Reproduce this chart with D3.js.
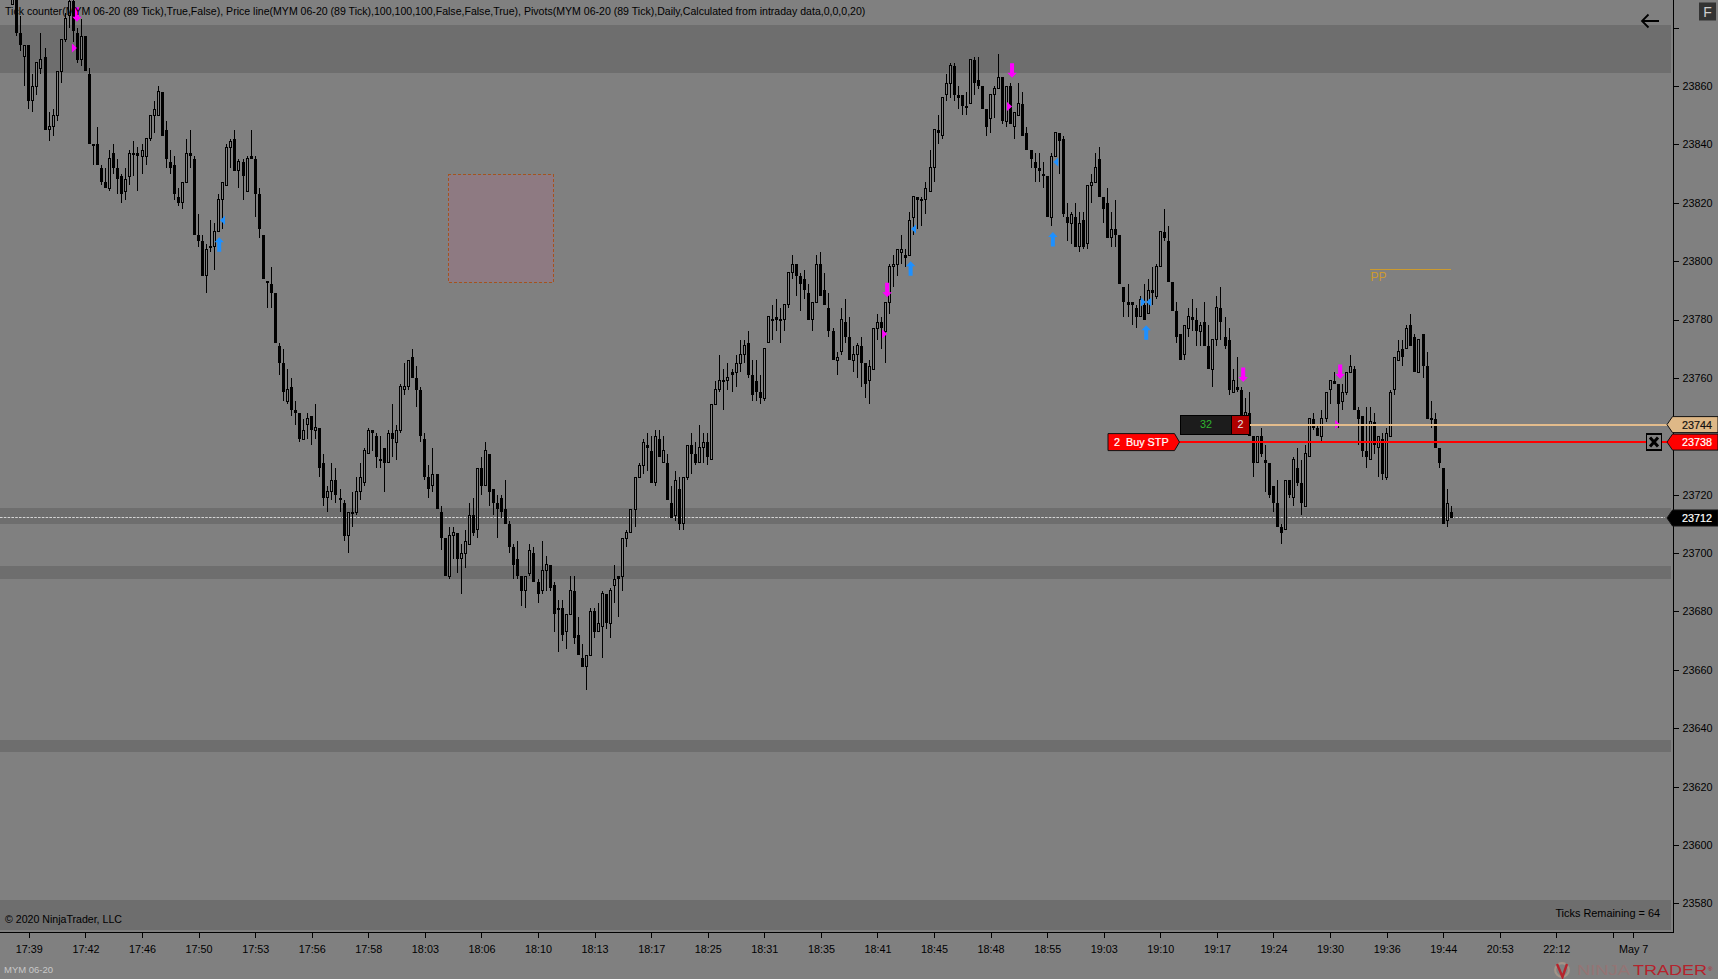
<!DOCTYPE html>
<html><head><meta charset="utf-8">
<script src="https://cdnjs.cloudflare.com/ajax/libs/d3/7.8.5/d3.min.js"></script>
<style>
html,body{margin:0;padding:0;background:#808080;overflow:hidden}
svg{display:block;font-family:"Liberation Sans",Arial,sans-serif}
</style></head><body>
<svg id="c" width="1718" height="979"></svg>
<script>
// ---------- data ----------
const opens=[
23888,23890,23878,23870,23874,23855,23860,23866,23870,23845,23846,23850,23865,23876,23884,23889,23878,23869,23877,23864,
23840,23840,23832,23827,23825,23837,23832,23829,23824,23829,23837,23837,23836,23836,23842,23850,23850,23858,23845,23834,
23833,23822,23820,23827,23837,23835,23809,23807,23795,23805,23805,23810,23821,23826,23839,23842,23831,23834,23824,23836,
23835,23823,23809,23793,23792,23789,
23771,23765,23752,23757,23749,23748,23739,23744,23747,23742,23743,23731,23719,23721,23725,23719,23717,23706,23714,23714,
23721,23724,23734,23742,23740,23732,23736,23731,23741,23738,23742,23756,23757,23767,23760,23756,23739,23726,23723,23727,
23714,23705,23692,23706,23707,23698,23700,23703,23713,23708,23729,23723,23734,23722,23717,
23719,23715,23710,23702,23698,23692,23687,23693,23700,23690,23687,23694,23696,23689,23681,23681,23673,23679,23687,23672,
23664,23661,23665,23680,23673,23675,23686,23676,23689,23692,23692,23705,23707,23715,23726,23730,23737,23735,23724,23739,
23731,23731,23717,23713,23722,23710,23726,23737,23734,23731,23736,23738,23732,23751,23756,23759,23759,23762,23762,23765,
23768,
23772,23761,23759,23755,23753,23772,23780,23781,23780,23780,23785,23796,23799,23795,23794,23789,23780,23786,23799,23790,
23784,23776,23766,
23769,23779,23774,23766,23768,23771,23765,23759,23763,23777,23779,23776,23786,23798,23799,23803,23802,23802,23815,23822,
23821,23821,23824,23832,23845,23843,23857,23861,23867,23857,23857,23853,23854,23869,23862,23860,23852,23849,23857,23859,
23863,23848,23860,23846,23850,23854,23844,23838,23834,23832,23830,23829,23815,23836,23844,23842,23815,23813,23815,23805,
23814,23806,23826,23827,23835,23822,23820,23808,23811,23809,23791,23786,23786,23784,23781,23785,23782,23790,23788,23798,
23810,23807,23793,23783,23775,23768,23777,23781,23780,
23776,23779,23771,23763,23773,23784,23774,23773,23755,23757,23756,23746,23748,23740,23731,23740,23732,23731,23723,23717,
23709,23708,23725,23719,23729,23724,23716,23733,23746,23743,23740,23746,23756,23759,23758,23752,23755,23762,23763,23749,
23747,23735,23732,23745,23736,23739,23726,23740,23756,23766,23770,23770,23778,23774,23762,23775,23764,23746,23746,23736,
23729,23711,23714];
const highs=[
23893,23892,23884,23874,23874,23864,23868,23878,23873,23851,23852,23865,23876,23885,23893,23892,23880,23883,23877,23866,
23840,23846,23833,23832,23838,23840,23835,23830,23832,23838,23841,23839,23840,23842,23850,23855,23860,23858,23848,23838,
23836,23825,23827,23842,23845,23836,23816,23809,23806,23814,23813,23823,23827,23840,23842,23845,23835,23835,23836,23845,
23836,23825,23809,23793,23798,23789,
23772,23770,23763,23760,23752,23748,23746,23748,23747,23751,23743,23734,23723,23731,23729,23722,23718,23714,23721,23726,
23731,23736,23743,23742,23741,23740,23736,23742,23751,23744,23758,23765,23766,23770,23764,23757,23741,23730,23736,23727,
23716,23705,23709,23709,23707,23703,23708,23717,23719,23729,23733,23738,23734,23722,23720,
23720,23725,23711,23703,23704,23692,23692,23703,23702,23691,23704,23699,23696,23690,23684,23684,23679,23692,23692,23678,
23669,23665,23681,23681,23683,23687,23686,23688,23696,23692,23705,23708,23715,23726,23731,23739,23741,23740,23742,23742,
23740,23734,23723,23728,23726,23726,23737,23741,23738,23744,23741,23741,23751,23759,23768,23763,23765,23763,23768,23773,
23773,
23776,23766,23766,23761,23770,23781,23785,23787,23784,23785,23796,23802,23799,23796,23797,23792,23786,23802,23803,23796,
23789,23777,23769,
23784,23787,23781,23771,23772,23774,23765,23766,23777,23782,23781,23786,23799,23802,23804,23809,23804,23817,23822,23822,
23822,23827,23838,23845,23850,23856,23864,23868,23868,23860,23857,23858,23869,23870,23870,23860,23852,23857,23860,23871,
23863,23860,23861,23851,23861,23858,23846,23838,23837,23837,23834,23829,23837,23844,23844,23843,23820,23817,23820,23817,
23817,23826,23830,23837,23839,23822,23825,23817,23821,23809,23791,23792,23786,23785,23788,23792,23794,23798,23799,23810,
23818,23812,23793,23786,23775,23778,23784,23787,23784,
23779,23786,23778,23773,23788,23791,23781,23777,23763,23767,23757,23753,23755,23740,23740,23743,23737,23731,23723,23725,
23710,23725,23725,23733,23736,23732,23737,23746,23748,23744,23749,23755,23759,23762,23758,23758,23762,23768,23764,23750,
23747,23750,23750,23748,23740,23741,23743,23756,23767,23773,23773,23778,23782,23775,23773,23775,23769,23752,23748,23736,
23729,23722,23716];
const lows=[
23888,23877,23872,23860,23852,23851,23857,23864,23845,23841,23843,23848,23861,23875,23880,23875,23868,23867,23865,23840,
23833,23833,23826,23825,23824,23830,23823,23820,23821,23826,23829,23824,23830,23833,23841,23844,23850,23843,23832,23830,
23821,23819,23818,23827,23832,23809,23805,23795,23789,23803,23797,23810,23811,23826,23832,23831,23825,23821,23824,23835,
23815,23808,23794,23784,23784,23772,
23761,23752,23751,23747,23744,23738,23739,23739,23737,23739,23726,23716,23714,23718,23717,23714,23704,23700,23709,23713,
23718,23723,23734,23735,23729,23729,23721,23731,23733,23732,23741,23754,23756,23760,23750,23738,23725,23719,23721,23715,
23701,23692,23691,23698,23693,23686,23695,23703,23706,23705,23720,23723,23716,23713,23705,
23712,23710,23700,23691,23691,23682,23681,23692,23690,23683,23686,23687,23687,23673,23666,23670,23667,23679,23669,23665,
23661,23653,23665,23671,23673,23664,23674,23671,23683,23678,23687,23702,23707,23709,23726,23727,23728,23724,23723,23733,
23731,23718,23712,23711,23708,23708,23725,23727,23730,23731,23731,23730,23732,23751,23755,23749,23756,23755,23757,23762,
23765,
23760,23752,23752,23751,23752,23772,23773,23776,23772,23776,23784,23794,23788,23783,23787,23780,23776,23786,23788,23785,
23774,23766,23761,
23768,23772,23766,23762,23760,23757,23753,23751,23763,23773,23770,23765,23782,23791,23795,23799,23798,23802,23809,23811,
23812,23816,23824,23827,23840,23842,23855,23856,23855,23852,23850,23850,23854,23857,23859,23852,23843,23844,23849,23859,
23847,23846,23847,23842,23850,23843,23838,23832,23827,23827,23825,23815,23812,23836,23830,23815,23807,23806,23805,23803,
23804,23804,23820,23827,23822,23813,23808,23805,23805,23792,23781,23781,23778,23777,23781,23780,23782,23785,23787,23798,
23807,23793,23783,23772,23766,23766,23774,23776,23771,
23771,23771,23763,23757,23771,23773,23770,23754,23755,23755,23746,23741,23740,23726,23731,23733,23721,23719,23714,23709,
23703,23708,23719,23716,23723,23713,23716,23733,23742,23740,23738,23745,23751,23758,23743,23749,23754,23762,23749,23737,
23733,23729,23732,23734,23726,23725,23725,23740,23754,23766,23764,23770,23771,23762,23762,23760,23746,23743,23736,23729,
23710,23709,23712];
const closes=[
23891,23878,23874,23874,23855,23860,23868,23869,23845,23846,23850,23865,23876,23883,23889,23879,23869,23877,23865,23840,
23840,23833,23827,23825,23835,23832,23828,23823,23828,23837,23837,23836,23838,23842,23850,23852,23858,23843,23835,23832,
23823,23820,23827,23837,23836,23809,23807,23795,23804,23805,23810,23821,23827,23839,23841,23831,23834,23829,23835,23835,
23823,23811,23794,23793,23789,23772,
23765,23755,23756,23749,23748,23739,23742,23746,23742,23743,23729,23719,23721,23725,23720,23718,23706,23714,23714,23721,
23726,23735,23742,23741,23733,23732,23731,23741,23739,23742,23757,23757,23766,23760,23756,23740,23726,23722,23727,23715,
23705,23692,23706,23707,23698,23700,23704,23713,23707,23729,23723,23735,23721,23717,23715,
23714,23710,23702,23696,23692,23687,23692,23701,23690,23686,23694,23696,23688,23679,23681,23672,23679,23687,23671,23665,
23661,23665,23680,23673,23676,23686,23676,23687,23691,23691,23705,23707,23715,23726,23730,23738,23736,23724,23740,23733,
23735,23718,23712,23725,23710,23726,23737,23734,23731,23736,23738,23733,23751,23756,23759,23759,23760,23761,23765,23768,
23771,
23761,23754,23755,23753,23770,23781,23780,23780,23780,23785,23796,23799,23795,23792,23790,23780,23786,23799,23788,23785,
23776,23766,23767,
23780,23774,23766,23768,23771,23765,23758,23764,23777,23779,23777,23786,23798,23799,23804,23804,23801,23814,23822,23821,
23821,23825,23832,23845,23844,23856,23861,23867,23857,23856,23853,23853,23869,23861,23860,23852,23846,23857,23859,23863,
23848,23860,23847,23851,23854,23843,23838,23835,23832,23831,23829,23815,23836,23844,23841,23816,23813,23816,23805,23813,
23805,23826,23827,23832,23822,23818,23808,23811,23809,23792,23786,23785,23785,23781,23787,23780,23790,23789,23798,23810,
23808,23793,23783,23774,23766,23778,23781,23780,23776,
23778,23771,23763,23773,23784,23779,23771,23756,23759,23756,23747,23748,23740,23731,23740,23734,23731,23720,23717,23709,
23707,23725,23720,23732,23724,23717,23734,23746,23743,23740,23746,23755,23759,23758,23751,23755,23762,23764,23749,23746,
23735,23733,23745,23737,23740,23727,23741,23755,23767,23769,23767,23777,23771,23762,23773,23764,23746,23746,23736,23731,
23710,23717,23712];

const priceTicks=[23580,23600,23620,23640,23660,23680,23700,23720,23740,23760,23780,23800,23820,23840,23860,23880];
const hiddenPriceLabels=[23740,23880];
const timeBars=[4,18,32,46,60,74,88,102,116,130,144,158,172,186,200,214,228,242,256,270,284,298,312,326,340,354,368,382,396,401];
const timeLabels=["17:39","17:42","17:46","17:50","17:53","17:56","17:58","18:03","18:06","18:10","18:13","18:17","18:25","18:31","18:35","18:41","18:45","18:48","18:55","19:03","19:10","19:17","19:24","19:30","19:36","19:44","20:53","22:12","","May 7"];

const zoneTops=[23881,23715.4,23695.6,23636.1,23581.1];
const zoneBottoms=[23864.6,23710,23691.1,23632,23570.9];

const downArrowBars=[15.9,216.4,247.3,304.5,328.5];
const downArrowPrices=[23882,23787.6,23862.8,23758.6,23759.6];
const upArrowBars=[51.1,222.2,257.4,280.5];
const upArrowPrices=[23808.2,23800,23810,23778];
const rightTriBars=[15.9,216.4,247.3,328.5];
const rightTriPrices=[23873,23775,23853,23744];
const leftTriBars=[51.3,222.3,257.5,280.5];
const leftTriPrices=[23814,23811,23834,23786];
const blueRightTriBars=[280.4];
const blueRightTriPrices=[23786];

const lastPrice=23712, stopPrice=23738, avgPrice=23744, pivotPrice=23797;
const boxBars=[107.8,133.9], boxPrices=[23829.6,23792.8];
const pivotBars=[336,356];

// ---------- scales ----------
const x=d3.scaleLinear().domain([0,356]).range([12.7,1451.3]);
const y=d3.scaleLinear().domain([23860,23580]).range([86,903.3]);
const svg=d3.select("#c");
const bars=opens.map((o,i)=>({i,o,h:Math.max(highs[i],o,closes[i]),l:Math.min(lows[i],o,closes[i]),c:closes[i]}));

svg.append("rect").attr("width",1718).attr("height",979).attr("fill","#808080");

// zones
svg.append("g").selectAll("rect").data(zoneTops).join("rect")
 .attr("x",0).attr("width",1671)
 .attr("y",d=>y(d)).attr("height",(d,i)=>y(zoneBottoms[i])-y(d))
 .attr("fill","#6e6e6e").attr("shape-rendering","crispEdges");

// drawn rectangle
svg.append("rect").attr("x",x(boxBars[0])).attr("width",x(boxBars[1])-x(boxBars[0]))
 .attr("y",y(boxPrices[0])).attr("height",y(boxPrices[1])-y(boxPrices[0]))
 .attr("fill","#8e7a82").attr("stroke","#a5521f").attr("stroke-dasharray","3,2")
 .attr("shape-rendering","crispEdges");

// pivot
svg.append("line").attr("x1",x(pivotBars[0])).attr("x2",x(pivotBars[1]))
 .attr("y1",y(pivotPrice)).attr("y2",y(pivotPrice)).attr("stroke","#cc9a2e").attr("shape-rendering","crispEdges");
svg.append("text").attr("x",x(pivotBars[0])).attr("y",y(pivotPrice)+11).attr("font-size",12)
 .attr("fill","#cc9a2e").text("PP");

// last-price dashed line
svg.append("line").attr("x1",0).attr("x2",1665).attr("y1",y(lastPrice)-.5).attr("y2",y(lastPrice)-.5)
 .attr("stroke","#d4d4d4").attr("stroke-dasharray","2.6,1.2");

// candles
const gb=svg.append("g").attr("shape-rendering","crispEdges");
const bx=d=>Math.floor(x(d.i));
gb.selectAll("rect.w").data(bars).join("rect").attr("class","w")
 .attr("x",bx).attr("width",1).attr("y",d=>y(d.h)).attr("height",d=>y(d.l)-y(d.h)).attr("fill","#000");
gb.selectAll("rect.b").data(bars).join("rect").attr("class","b")
 .attr("x",d=>d.c>=d.o?bx(d)-.5:bx(d)-1)
 .attr("width",d=>d.c>=d.o?2:3)
 .attr("y",d=>y(Math.max(d.o,d.c)))
 .attr("height",d=>Math.max(1,Math.abs(y(d.o)-y(d.c))))
 .attr("fill",d=>d.c>=d.o?"#808080":"#000")
 .attr("stroke",d=>d.c>=d.o?"#000":"none");

// markers
const mg=svg.append("g");
const downPath=(bar,p)=>{const X=x(bar),Y=y(p);return `M${X},${Y}l-4.7,-5h2.7v-9.5h4v9.5h2.7z`;};
const upPath=(bar,p)=>{const X=x(bar),Y=y(p);return `M${X},${Y}l-4.7,5h2.7v9.5h4v-9.5h2.7z`;};
mg.selectAll("path.da").data(downArrowBars).join("path").attr("d",(d,i)=>downPath(d,downArrowPrices[i])).attr("fill","#ff00ff");
mg.selectAll("path.ua").data(upArrowBars).join("path").attr("d",(d,i)=>upPath(d,upArrowPrices[i])).attr("fill","#1e90ff");
mg.selectAll("path.rt").data(rightTriBars).join("path")
 .attr("d",(d,i)=>`M${x(d)},${y(rightTriPrices[i])}l-5,-4.5v9z`).attr("fill","#ff00ff");
mg.selectAll("path.lt").data(leftTriBars).join("path")
 .attr("d",(d,i)=>`M${x(d)},${y(leftTriPrices[i])}l5,-4.5v9z`).attr("fill","#1e90ff");
mg.selectAll("path.brt").data(blueRightTriBars).join("path")
 .attr("d",(d,i)=>`M${x(d)},${y(blueRightTriPrices[i])}l-5,-4.5v9z`).attr("fill","#1e90ff");

// axes
const fs=10.8;
const yAxis=d3.axisRight(y).tickValues(priceTicks).tickSize(5).tickPadding(4)
 .tickFormat(d=>hiddenPriceLabels.includes(d)?"":d3.format("d")(d));
const gy=svg.append("g").attr("transform","translate(1673.5,0)").call(yAxis);
const xAxis=d3.axisBottom(x).tickValues(timeBars).tickSize(5).tickPadding(8)
 .tickFormat((d,i)=>timeLabels[i]);
const gx=svg.append("g").attr("transform","translate(0,932.5)").call(xAxis);
[gy,gx].forEach(g=>{g.select(".domain").remove();
 g.selectAll("line").attr("stroke","#000").attr("shape-rendering","crispEdges");
 g.selectAll("text").attr("fill","#000").attr("font-size",fs).attr("font-family",'"Liberation Sans",Arial,sans-serif');});
svg.append("line").attr("x1",1673.5).attr("x2",1673.5).attr("y1",0).attr("y2",932.5).attr("stroke","#000").attr("shape-rendering","crispEdges");
svg.append("line").attr("x1",0).attr("x2",1673.5).attr("y1",932.5).attr("y2",932.5).attr("stroke","#000").attr("shape-rendering","crispEdges");

// price tags
function tag(p,fill,txt,label){
 const Y=y(p);
 const g=svg.append("g");
 g.append("path").attr("d",`M1667,${Y}l5.5,-8H1718v16H1672.5z`).attr("fill",fill).attr("stroke","#111");
 g.append("text").attr("x",1682).attr("y",Y+.5).attr("dy",".36em").attr("font-size",fs).attr("fill",txt)
  .attr("stroke",txt).attr("stroke-width",.2).text(label);
}
svg.append("line").attr("x1",1250).attr("x2",1668).attr("y1",y(avgPrice)).attr("y2",y(avgPrice)).attr("stroke","#e3bc8c").attr("stroke-width",2).attr("shape-rendering","crispEdges");
svg.append("line").attr("x1",1179).attr("x2",1668).attr("y1",y(stopPrice)).attr("y2",y(stopPrice)).attr("stroke","#ff0000").attr("stroke-width",2).attr("shape-rendering","crispEdges");
tag(avgPrice,"#deb887","#111",avgPrice);
tag(stopPrice,"#ff0000","#fff",stopPrice);
tag(lastPrice,"#000","#fff",lastPrice);

// Buy STP tag
const ys=y(stopPrice);
svg.append("path").attr("d",`M1108,${ys-8.5}H1174.5l5,8.5l-5,8.5H1108z`).attr("fill","#ff0000").attr("stroke","#111");
svg.append("text").attr("x",1114).attr("y",ys).attr("dy",".36em").attr("font-size",fs).attr("fill","#fff")
 .attr("stroke","#fff").attr("stroke-width",.2).style("white-space","pre").text("2  Buy STP");

// position box
const ya=y(avgPrice);
svg.append("rect").attr("x",1180.5).attr("y",ya-9.5).attr("width",69).attr("height",19).attr("fill","#1c1c1c").attr("stroke","#000").attr("shape-rendering","crispEdges");
svg.append("rect").attr("x",1231.5).attr("y",ya-9.5).attr("width",18).attr("height",19).attr("fill","#b00000").attr("stroke","#000").attr("shape-rendering","crispEdges");
svg.append("text").attr("x",1206).attr("y",ya).attr("dy",".36em").attr("text-anchor","middle").attr("font-size",fs).attr("fill","#2fb52f").text("32");
svg.append("text").attr("x",1240.5).attr("y",ya).attr("dy",".36em").attr("text-anchor","middle").attr("font-size",fs).attr("fill","#e4e4e4").text("2");

// close X
svg.append("rect").attr("x",1646.5).attr("y",ys-8).attr("width",15).attr("height",16).attr("fill","#808080").attr("stroke","#000").attr("stroke-width",1.5).attr("shape-rendering","crispEdges");
svg.append("path").attr("d",`M1650,${ys-4.5}l8,9m0,-9l-8,9`).attr("stroke","#000").attr("stroke-width",3).attr("fill","none");

// header, footer text
svg.append("text").attr("x",5).attr("y",11).attr("dy",".36em").attr("font-size",10.57).attr("fill","#000")
 .text("Tick counter(MYM 06-20 (89 Tick),True,False), Price line(MYM 06-20 (89 Tick),100,100,100,False,False,True), Pivots(MYM 06-20 (89 Tick),Daily,Calculated from intraday data,0,0,0,20)");
svg.append("text").attr("x",5).attr("y",919).attr("dy",".36em").attr("font-size",10.6).attr("fill","#000").text("© 2020 NinjaTrader, LLC");
svg.append("text").attr("x",1660).attr("y",913).attr("dy",".36em").attr("text-anchor","end").attr("font-size",10.9).attr("fill","#000").text("Ticks Remaining = 64");
svg.append("text").attr("x",4).attr("y",970).attr("dy",".36em").attr("font-size",9.5).attr("fill","#c8c8c8").text("MYM 06-20");

// F button
svg.append("rect").attr("x",1699).attr("y",2.5).attr("width",17).attr("height",18).attr("fill","#333");
svg.append("text").attr("x",1707.5).attr("y",11.5).attr("dy",".36em").attr("text-anchor","middle").attr("font-size",14).attr("fill","#cfcfcf").text("F");

// back arrow
svg.append("path").attr("d","M1659,21H1642M1648.5,14.5L1642,21l6.5,6.5").attr("fill","none").attr("stroke","#000").attr("stroke-width",1.8);

// logo
const lg=svg.append("g");
lg.append("circle").attr("cx",1562).attr("cy",970).attr("r",6.8).attr("fill","none").attr("stroke","#a39488").attr("stroke-width",2.2);
lg.append("path").attr("d","M1557,964l5.5,13l4.5,-13").attr("fill","none").attr("stroke","#b5232c").attr("stroke-width",2.4);
lg.append("text").attr("x",1577).attr("y",975).attr("font-size",14).attr("textLength",53).attr("lengthAdjust","spacingAndGlyphs").attr("fill","#947474").text("NINJA");
lg.append("text").attr("x",1633).attr("y",975).attr("font-size",14).attr("textLength",74).attr("lengthAdjust","spacingAndGlyphs").attr("fill","#b5232c").text("TRADER");
lg.append("text").attr("x",1708).attr("y",971).attr("font-size",6).attr("fill","#b5232c").text("®");
</script>
</body></html>
